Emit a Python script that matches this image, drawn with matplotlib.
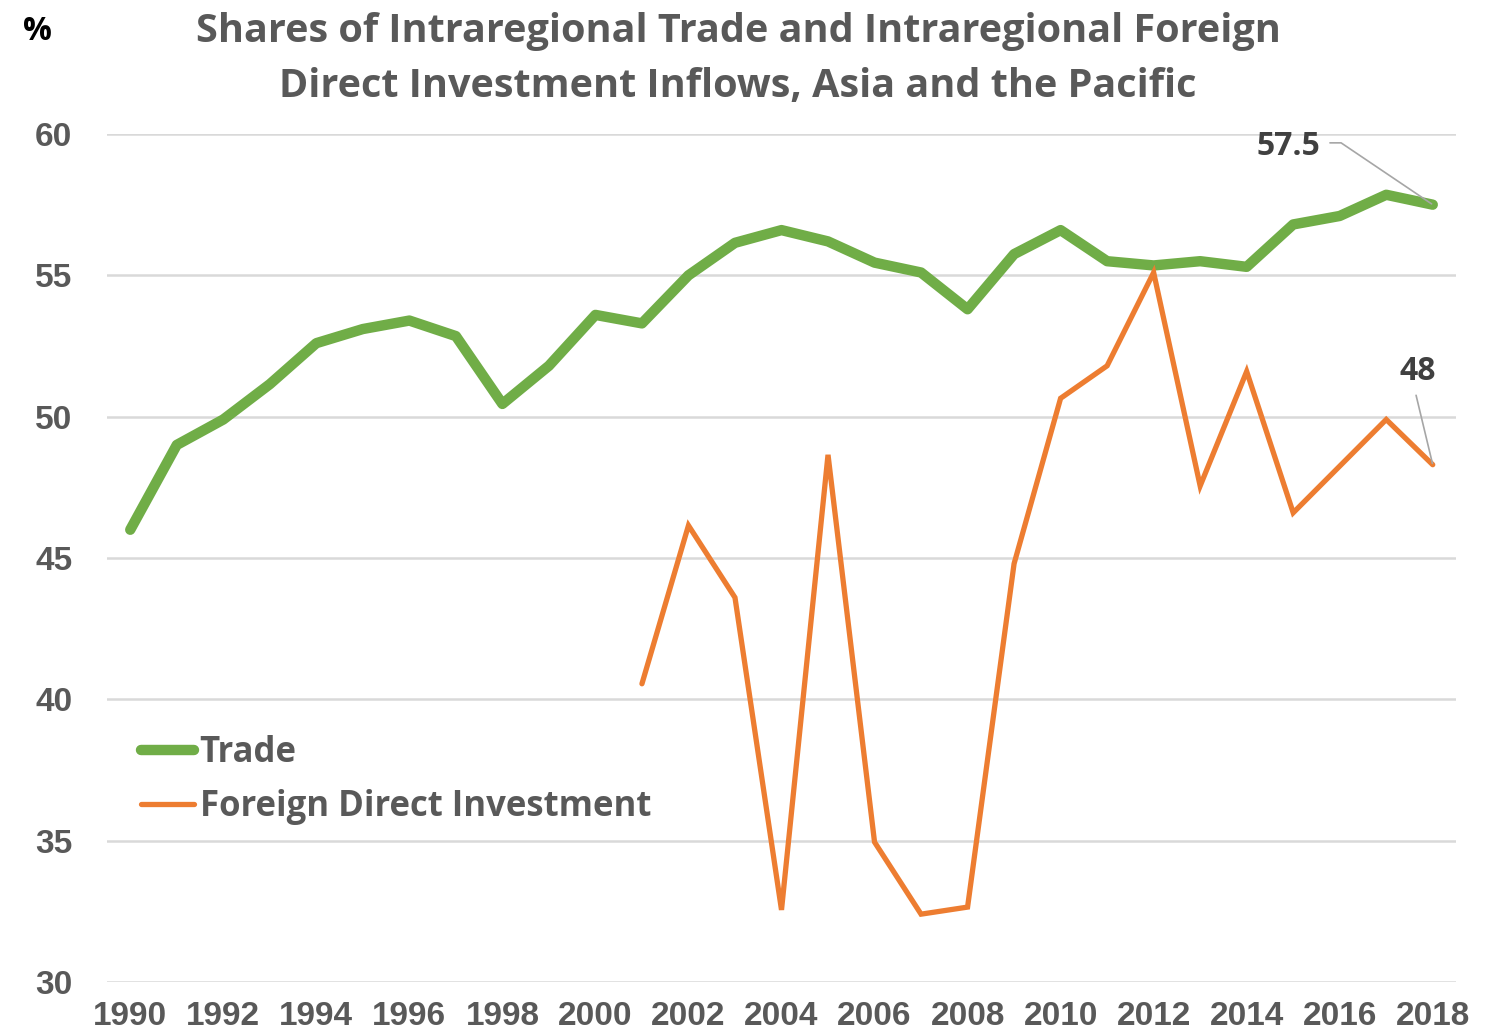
import numpy as np
import matplotlib
matplotlib.use("Agg")
import matplotlib.pyplot as plt

# ── data ──────────────────────────────────────────────────────────────────────
years = list(range(1990, 2019))
trade = [46.0, 49.0, 49.9, 51.15, 52.6, 53.1, 53.4, 52.85, 50.45, 51.8,
         53.6, 53.3, 55.0, 56.15, 56.6, 56.2, 55.45, 55.1, 53.8, 55.75,
         56.6, 55.5, 55.35, 55.5, 55.3, 56.8, 57.1, 57.85, 57.5]
fdi_years = list(range(2001, 2019))
fdi = [40.55, 46.15, 43.6, 32.55, 48.65, 34.95, 32.4, 32.65, 44.8, 50.65,
       51.8, 55.1, 47.55, 51.6, 46.6, 48.25, 49.9, 48.3]
y_ticks = [30, 35, 40, 45, 50, 55, 60]
x_ticks = list(range(1990, 2019, 2))
title_lines = ["Shares of Intraregional Trade and Intraregional Foreign",
               "Direct Investment Inflows, Asia and the Pacific"]

GREEN = "#70AD47"
ORANGE = "#ED7D31"
GREY = "#595959"
DARK = "#404040"
TEXT_FONT = ["Open Sans", "DejaVu Sans"]
TICK_FONT = ["Liberation Sans", "DejaVu Sans"]

fig = plt.figure(figsize=(14.88, 10.34), dpi=100)
ax = fig.add_axes([107 / 1488, 52 / 1034, (1456 - 107) / 1488, (982 - 134) / 1034])

ax.plot(years, trade, color=GREEN, lw=7.5, solid_capstyle="round",
        solid_joinstyle="round", label="Trade", zorder=3)
ax.plot(fdi_years, fdi, color=ORANGE, lw=3.8, solid_capstyle="round",
        solid_joinstyle="miter", label="Foreign Direct Investment", zorder=3)

ax.set_xlim(1989.5, 2018.5)
ax.set_ylim(30, 60)
ax.set_yticks(y_ticks)
ax.set_xticks(x_ticks)
ax.grid(axis="y", color="#D9D9D9", lw=1.8, zorder=0)
for s in ax.spines.values():
    s.set_visible(False)
ax.tick_params(length=0, colors=GREY)
ax.tick_params(axis="y", pad=25)
ax.tick_params(axis="x", pad=14)
for lab in ax.get_xticklabels() + ax.get_yticklabels():
    lab.set_fontfamily(TICK_FONT)
    lab.set_fontweight("bold")
    lab.set_fontsize(24)

# title and unit
for txt, base in zip(title_lines, [42, 97]):
    fig.text(738 / 1488, 1 - base / 1034, txt, ha="center", va="baseline",
             fontsize=28.5, fontweight="bold", color=GREY, family=TEXT_FONT)
fig.text(37 / 1488, 1 - 40 / 1034, "%", ha="center", va="baseline",
         fontsize=23, fontweight="bold", color="black", family=TEXT_FONT)

# legend
leg = ax.legend(loc="center left", bbox_to_anchor=(0.012, 0.238), frameon=False,
                borderpad=0, handlelength=1.55, handletextpad=0.15,
                labelspacing=0.52,
                prop={"family": TEXT_FONT, "weight": "bold", "size": 25})
for t in leg.get_texts():
    t.set_color(GREY)

# end-point labels with leader lines
lead = dict(arrowstyle="-", color="#A6A6A6", lw=1.2, shrinkA=0, shrinkB=1)
ax.annotate("57.5", xy=(years[-1], trade[-1]), xytext=(-104, 42),
            textcoords="offset points", ha="center", va="center",
            fontsize=23, fontweight="bold", color=DARK, family=TEXT_FONT)
ax.annotate("", xy=(years[-1], trade[-1]), xytext=(-74, 44.5),
            textcoords="offset points",
            arrowprops=dict(lead, connectionstyle="angle,angleA=0,angleB=146,rad=0"))
ax.annotate("48", xy=(fdi_years[-1], fdi[-1]), xytext=(-11, 67),
            textcoords="offset points", ha="center", va="center",
            fontsize=23, fontweight="bold", color=DARK, family=TEXT_FONT)
ax.annotate("", xy=(fdi_years[-1], fdi[-1]), xytext=(-12, 50),
            textcoords="offset points", arrowprops=lead)

fig.savefig("out.png", dpi=100)
